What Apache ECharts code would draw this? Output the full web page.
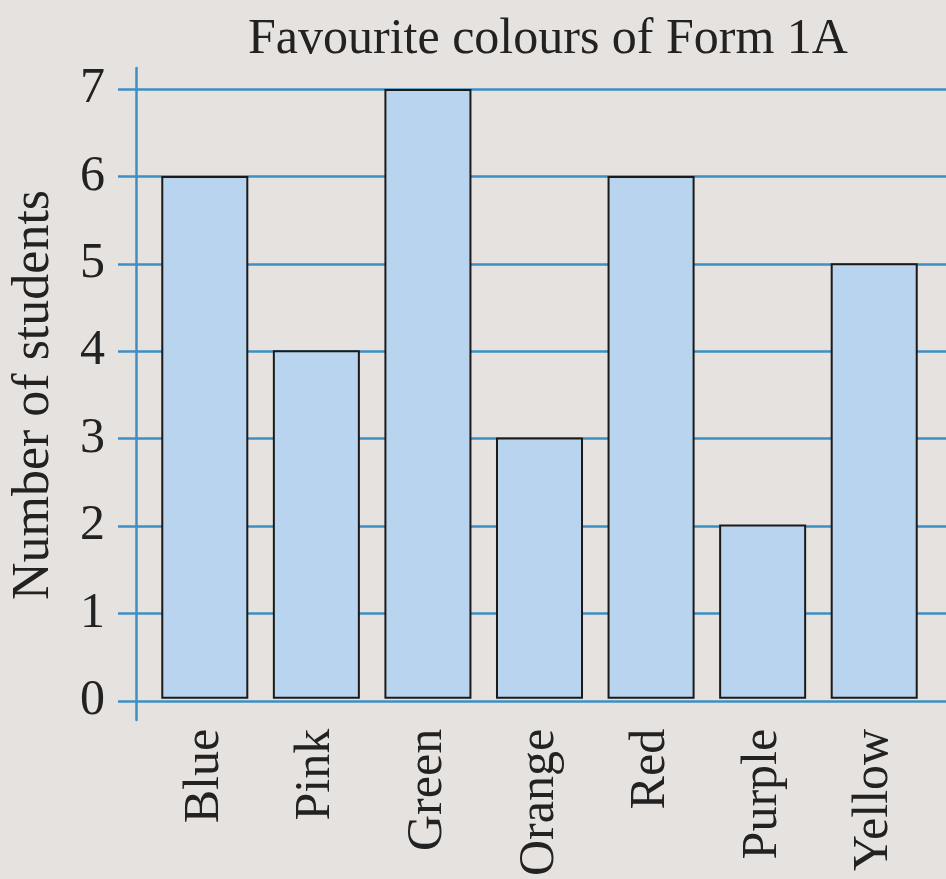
<!DOCTYPE html>
<html>
<head>
<meta charset="utf-8">
<script src="https://cdn.jsdelivr.net/npm/echarts@6/dist/echarts.min.js"></script>
<style>
  html, body { margin: 0; padding: 0; background: #e6e2df; }
  #chart { width: 946px; height: 879px; }
</style>
</head>
<body>
<div id="chart"></div>
<script>
var colours = ['Blue', 'Pink', 'Green', 'Orange', 'Red', 'Purple', 'Yellow'];
var students = [6, 4, 7, 3, 6, 2, 5];
var yTicks = [0, 1, 2, 3, 4, 5, 6, 7];

var serif = '"Liberation Serif", "DejaVu Serif", serif';
var gridBlue = '#3b8fc6';

var chart = echarts.init(document.getElementById('chart'));
var option = {
    backgroundColor: '#e6e2df',
    title: {
        text: 'Favourite colours of Form 1A',
        left: 543,
        top: 10,
        textAlign: 'center',
        textStyle: { fontFamily: serif, fontWeight: 'normal', fontSize: 50, color: '#222' }
    },
    grid: [
        // gridlines + tick labels
        { left: 118, right: 0, top: 89, bottom: 178 },
        // bars
        { left: 149, right: 16, top: 89, bottom: 178 },
        // vertical axis line
        { left: 136, right: 0, top: 68, bottom: 159 }
    ],
    xAxis: [
        { gridIndex: 0, type: 'value', show: false },
        {
            gridIndex: 1,
            type: 'category',
            data: colours,
            axisLine: { show: false },
            axisTick: { show: false },
            axisLabel: {
                rotate: 90,
                margin: 30,
                fontFamily: serif,
                fontSize: 50,
                color: '#222'
            }
        },
        { gridIndex: 2, type: 'value', show: false }
    ],
    yAxis: [
        {
            gridIndex: 0,
            type: 'value',
            min: 0,
            max: 7,
            interval: 1,
            name: 'Number of students',
            nameLocation: 'middle',
            nameGap: 58,
            nameTextStyle: { fontFamily: serif, fontSize: 52, color: '#222' },
            axisLine: { show: false },
            axisTick: { show: false },
            axisLabel: {
                margin: 13,
                fontFamily: serif,
                fontSize: 50,
                color: '#222',
                formatter: function (v) { return yTicks.indexOf(v) >= 0 ? String(v) : ''; }
            },
            splitLine: { show: true, lineStyle: { color: gridBlue, width: 2.5 } }
        },
        {
            gridIndex: 1,
            type: 'value',
            min: 0,
            max: 7,
            interval: 1,
            show: false
        },
        {
            gridIndex: 2,
            type: 'value',
            min: 0,
            max: 1,
            axisLine: { show: true, lineStyle: { color: gridBlue, width: 2.5 } },
            axisTick: { show: false },
            axisLabel: { show: false },
            splitLine: { show: false }
        }
    ],
    series: [
        {
            type: 'bar',
            xAxisIndex: 1,
            yAxisIndex: 1,
            data: students,
            barCategoryGap: '22%',
            itemStyle: { color: '#b9d4ee', borderColor: '#1a1a1a', borderWidth: 2 },
            silent: true
        }
    ]
};
chart.setOption(option);
window.addEventListener('resize', chart.resize);
</script>
</body>
</html>
